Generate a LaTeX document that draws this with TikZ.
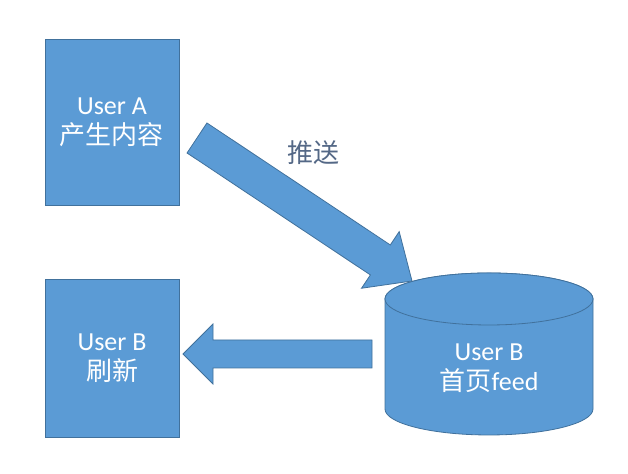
\documentclass[tikz,border=0pt]{standalone}
\usepackage{fontspec}
\setmainfont{Carlito}
\newfontfamily\cjk{Noto Sans CJK SC}
\usetikzlibrary{calc}
\definecolor{boxblue}{HTML}{5B9BD5}
\definecolor{boxline}{HTML}{41719C}
\definecolor{labelgray}{RGB}{84,104,134}
\tikzset{
  userbox/.style={draw=boxline, fill=boxblue, text=white, align=center,
    minimum width=67pt, font=\fontsize{13}{15}\selectfont},
  arrowbox/.style={draw=boxline, fill=boxblue, line join=miter},
}
% block arrow: start, end, half shaft, half head, head length
\newcommand{\blockarrow}[5]{%
  \draw[arrowbox] ($(#1)!#3!90:(#2)$)
    -- ($(#2)!#5!(#1)!#3!-90:(#1)$)
    -- ($(#2)!#5!(#1)!#4!-90:(#1)$)
    -- (#2)
    -- ($(#2)!#5!(#1)!#4!90:(#1)$)
    -- ($(#2)!#5!(#1)!#3!90:(#1)$)
    -- ($(#1)!#3!-90:(#2)$) -- cycle;}
\begin{document}
\begin{tikzpicture}[x=0.5pt,y=0.5pt]
            \useasboundingbox (0,0) rectangle (628,474);
            \node[userbox, minimum height=83pt] (userA) at (112,352) {User A\\{\cjk 产生内容}};
            \node[userbox, minimum height=79pt] (userB) at (112,116) {User B\\{\cjk 刷新}};
            % push arrow
            \coordinate (pushS) at (197,336);
            \coordinate (pushE) at (412,193);
            \blockarrow{pushS}{pushE}{9pt}{17pt}{19pt}
            \node[text=labelgray, font=\cjk\fontsize{13}{15}\selectfont] (push) at (313,321) {推送};
            % feed cylinder
            \draw[arrowbox] (385,175) -- (385,65)
              arc[start angle=180, end angle=360, x radius=104, y radius=26]
              -- (593,175) arc[start angle=0, end angle=180, x radius=104, y radius=26] -- cycle;
            \draw[arrowbox] (489,175) ellipse[x radius=104, y radius=26];
            \node[text=white, align=center, font=\fontsize{13}{15}\selectfont] (feed) at (489,106) {User B\\{\cjk 首页}feed};
            % refresh arrow
            \coordinate (backS) at (372,120);
            \coordinate (backE) at (183,120);
            \blockarrow{backS}{backE}{7pt}{15pt}{15pt}
        \end{tikzpicture}
\end{document}
